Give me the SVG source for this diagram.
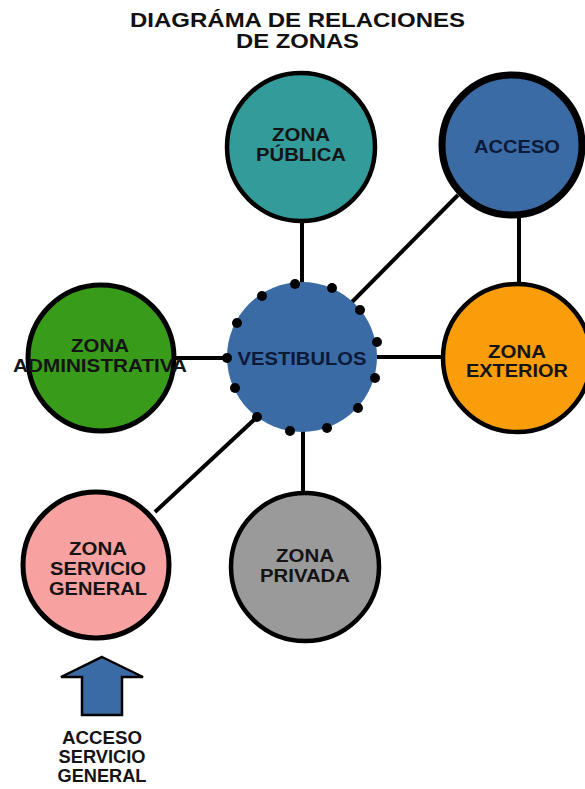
<svg xmlns="http://www.w3.org/2000/svg" width="585" height="789" viewBox="0 0 585 789">
<style>
.t{font-family:"Liberation Sans",Arial,sans-serif;font-weight:bold;font-size:19px;fill:#141414;text-anchor:middle}
.tb{fill:#0b1a38}
.title{font-size:21px;fill:#111}
.big{font-size:18px}
.c{stroke:#000;stroke-width:4.5}
.ln{stroke:#000;stroke-width:4;fill:none}
.dot{fill:#000}
</style>
<rect width="585" height="789" fill="#fff"/>
<g id="title">
<text class="t title" x="297.5" y="27" textLength="335" lengthAdjust="spacingAndGlyphs">DIAGRÁMA DE RELACIONES</text>
<text class="t title" x="297.5" y="48" textLength="123" lengthAdjust="spacingAndGlyphs">DE ZONAS</text>
</g>
<g id="connectors">
<line class="ln" x1="302" y1="220" x2="302" y2="284"/>
<line class="ln" x1="352" y1="302" x2="458" y2="195"/>
<line class="ln" x1="519" y1="214" x2="519" y2="284"/>
<line class="ln" x1="176" y1="358" x2="228" y2="358"/>
<line class="ln" x1="377" y1="357" x2="442" y2="357"/>
<line class="ln" x1="303" y1="431" x2="303" y2="491"/>
<line class="ln" x1="257" y1="417" x2="155" y2="512"/>
</g>
<g id="zona-publica">
<circle class="c" cx="301" cy="147" r="74" fill="#339b99"/>
<text class="t" x="301" y="141" textLength="58" lengthAdjust="spacingAndGlyphs">ZONA</text>
<text class="t" x="301" y="161" textLength="90" lengthAdjust="spacingAndGlyphs">PÚBLICA</text>
</g>
<g id="acceso">
<circle cx="512" cy="145" r="70" fill="#3b6ba5" stroke="#000" stroke-width="7"/>
<text class="t tb" x="517" y="153" textLength="86" lengthAdjust="spacingAndGlyphs">ACCESO</text>
</g>
<g id="zona-administrativa">
<circle cx="101" cy="358" r="73" fill="#389c1a" stroke="#000" stroke-width="5"/>
<text class="t" x="100" y="352" textLength="58" lengthAdjust="spacingAndGlyphs">ZONA</text>
<text class="t" x="100" y="372" textLength="174" lengthAdjust="spacingAndGlyphs">ADMINISTRATIVA</text>
</g>
<g id="vestibulos">
<circle cx="302" cy="357" r="75" fill="#3b6ba5"/>
<g class="dot">
<circle cx="295" cy="284" r="5"/><circle cx="332" cy="288" r="5"/><circle cx="262" cy="296" r="5"/>
<circle cx="360" cy="310" r="5"/><circle cx="237" cy="323" r="5"/><circle cx="377" cy="342" r="5"/>
<circle cx="227" cy="358" r="5"/><circle cx="375" cy="378" r="5"/><circle cx="235" cy="388" r="5"/>
<circle cx="358" cy="408" r="5"/><circle cx="257" cy="417" r="5"/><circle cx="327" cy="428" r="5"/>
<circle cx="290" cy="431" r="5"/>
</g>
<text class="t tb" x="302" y="365" textLength="129" lengthAdjust="spacingAndGlyphs">VESTIBULOS</text>
</g>
<g id="zona-exterior">
<circle class="c" cx="517" cy="358" r="74" fill="#f99d0a"/>
<text class="t" x="517" y="358" textLength="58" lengthAdjust="spacingAndGlyphs">ZONA</text>
<text class="t" x="517" y="377" textLength="102" lengthAdjust="spacingAndGlyphs">EXTERIOR</text>
</g>
<g id="zona-servicio-general">
<circle cx="96" cy="565" r="73" fill="#f7a1a1" stroke="#000" stroke-width="5"/>
<text class="t" x="98" y="555" textLength="58" lengthAdjust="spacingAndGlyphs">ZONA</text>
<text class="t" x="98" y="575" textLength="96" lengthAdjust="spacingAndGlyphs">SERVICIO</text>
<text class="t" x="98" y="595" textLength="98" lengthAdjust="spacingAndGlyphs">GENERAL</text>
</g>
<g id="zona-privada">
<circle class="c" cx="305" cy="567" r="74" fill="#9a9a9a"/>
<text class="t" x="305" y="562" textLength="58" lengthAdjust="spacingAndGlyphs">ZONA</text>
<text class="t" x="305" y="582" textLength="90" lengthAdjust="spacingAndGlyphs">PRIVADA</text>
</g>
<g id="acceso-servicio-general">
<polygon points="102,657 143,677 122,677 122,715 82,715 82,677 61,677" fill="#3b6ba5" stroke="#000" stroke-width="2.5" stroke-linejoin="miter"/>
<text class="t big" x="102" y="744" textLength="80" lengthAdjust="spacingAndGlyphs">ACCESO</text>
<text class="t big" x="102" y="763" textLength="87" lengthAdjust="spacingAndGlyphs">SERVICIO</text>
<text class="t big" x="102" y="782" textLength="89" lengthAdjust="spacingAndGlyphs">GENERAL</text>
</g>
</svg>
